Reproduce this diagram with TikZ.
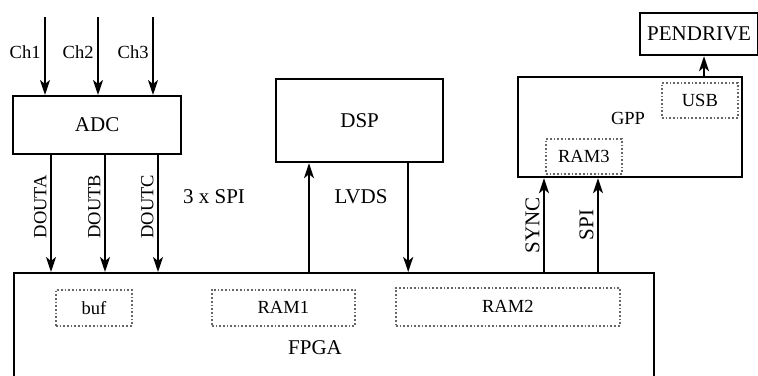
\documentclass[tikz,border=0pt]{standalone}
\usepackage{fontspec}
\setmainfont{Liberation Serif}
\usetikzlibrary{arrows.meta, positioning}

\begin{document}
\begin{tikzpicture}[
    x=1pt, y=-1pt,
    line width=2.2pt,
    big/.style={font=\fontsize{21}{25}\selectfont},
    small/.style={font=\fontsize{18.5}{22}\selectfont},
    block/.style={rectangle, draw, inner sep=0pt, anchor=north west, big},
    mem/.style={rectangle, draw=black!60, dotted, line width=1.7pt, inner sep=0pt, small},
    sig/.style={-{Stealth[length=15pt, width=10pt, inset=4pt]}}
]
\clip (0,0) rectangle (758,375);

% Main chips
\node[block, minimum width=168pt, minimum height=58pt] (adc) at (12,95) {ADC};
\node[block, minimum width=167pt, minimum height=83pt] (dsp) at (275,78) {DSP};
\node[block, minimum width=224pt, minimum height=100pt] (gpp) at (517,76) {};
\node[block, minimum width=118pt, minimum height=42pt] (pen) at (639,12) {PENDRIVE};
\node[block, minimum width=640pt, minimum height=140pt] (fpga) at (13,272) {};

% Memories inside the chips
\node[mem, minimum width=76pt, minimum height=36pt, below right=17pt and 42pt of fpga.north west] (buf) {buf};
\node[mem, minimum width=143pt, minimum height=36pt, below right=17pt and 198pt of fpga.north west] (ram1) {RAM1};
\node[mem, minimum width=224pt, minimum height=38pt, below right=15pt and 382pt of fpga.north west] (ram2) {RAM2};
\node[mem, minimum width=76pt, minimum height=35pt, below right=6pt and 144pt of gpp.north west] (usb) {USB};
\node[mem, minimum width=76pt, minimum height=35pt, below right=62pt and 28pt of gpp.north west] (ram3) {RAM3};

% Chip names and bus labels
\node[big] (fpgalbl) at (315,348) {FPGA};
\node[small] (gpplbl) at (628,118) {GPP};
\node[big] (spilbl) at (214,197) {3 x SPI};
\node[big] (lvdslbl) at (361,197) {LVDS};

% Analog inputs
\coordinate (ch1) at (45,17);
\coordinate (ch2) at (98,17);
\coordinate (ch3) at (153,17);
\draw[sig] (ch1) -- (ch1 |- adc.north) node[pos=0.45, left, small] {Ch1};
\draw[sig] (ch2) -- (ch2 |- adc.north) node[pos=0.45, left, small] {Ch2};
\draw[sig] (ch3) -- (ch3 |- adc.north) node[pos=0.45, left, small] {Ch3};

% ADC -> FPGA
\coordinate (douta) at ([xshift=39pt]adc.south west);
\coordinate (doutb) at ([xshift=93pt]adc.south west);
\coordinate (doutc) at ([xshift=146pt]adc.south west);
\draw[sig] (douta) -- (douta |- fpga.north) node[pos=0.44, rotate=90, above, small] {DOUTA};
\draw[sig] (doutb) -- (doutb |- fpga.north) node[pos=0.44, rotate=90, above, small] {DOUTB};
\draw[sig] (doutc) -- (doutc |- fpga.north) node[pos=0.44, rotate=90, above, small] {DOUTC};

% FPGA <-> DSP
\coordinate (lvdsup) at ([xshift=296pt]fpga.north west);
\coordinate (lvdsdn) at ([xshift=-36pt]dsp.south east);
\draw[sig] (lvdsup) -- (lvdsup |- dsp.south);
\draw[sig] (lvdsdn) -- (lvdsdn |- fpga.north);

% FPGA -> GPP
\coordinate (sync) at ([xshift=531pt]fpga.north west);
\coordinate (spi) at ([xshift=585pt]fpga.north west);
\draw[sig] (sync) -- (sync |- gpp.south) node[midway, rotate=90, above, big] {SYNC};
\draw[sig] (spi) -- (spi |- gpp.south) node[midway, rotate=90, above, big] {SPI};

% GPP -> PENDRIVE
\coordinate (usbout) at ([xshift=187pt]gpp.north west);
\draw[sig] (usbout) -- (usbout |- pen.south);

\end{tikzpicture}
\end{document}
